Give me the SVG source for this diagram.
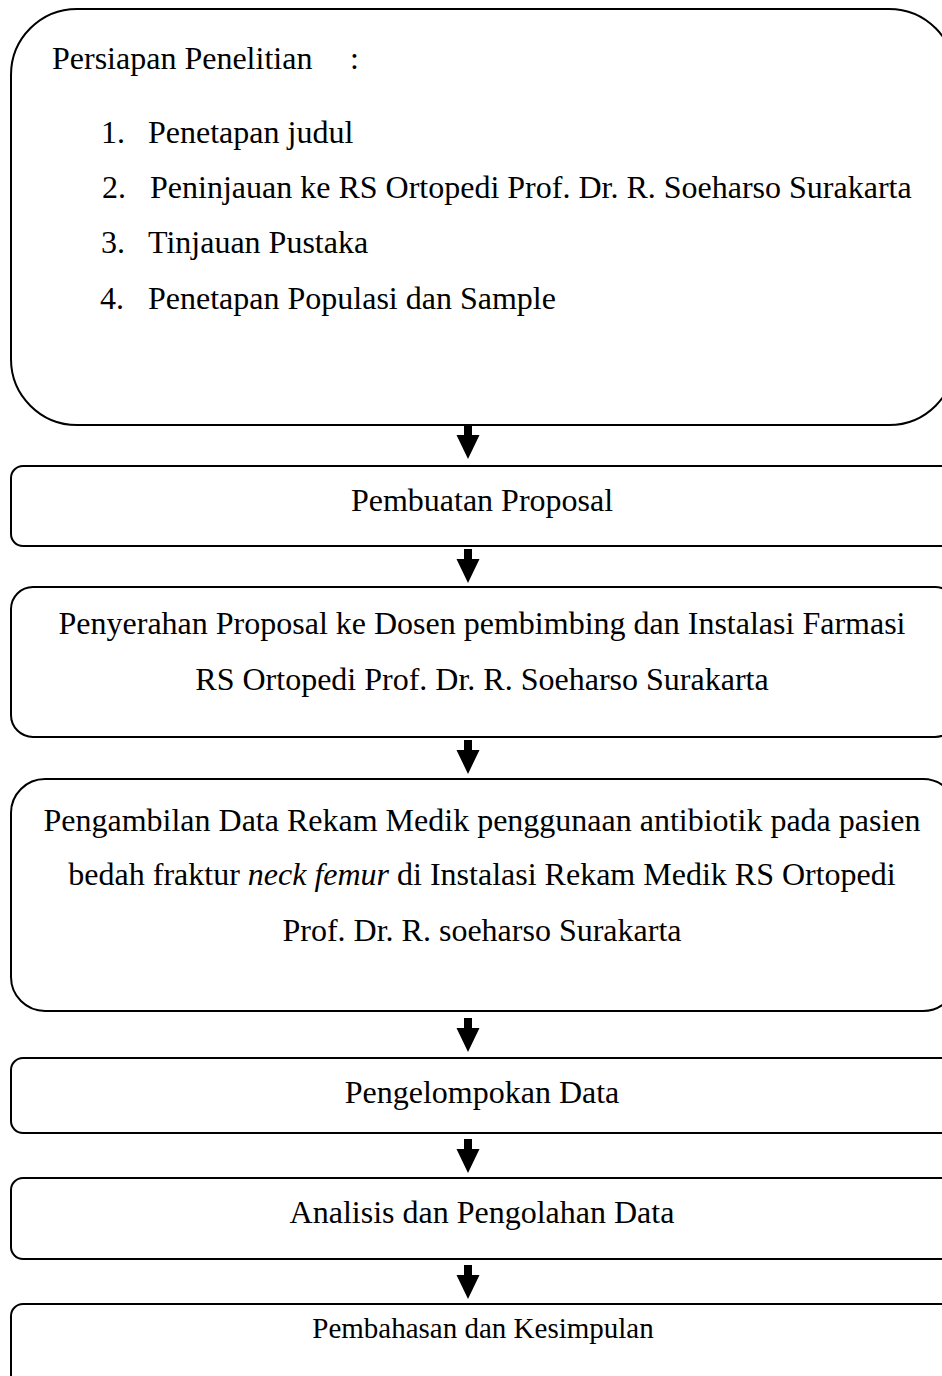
<svg xmlns="http://www.w3.org/2000/svg" width="942" height="1376" viewBox="0 0 942 1376">
<style>
.box{fill:#fff;stroke:#000;stroke-width:2}
.t{font-family:"Liberation Serif","Times New Roman",serif;font-size:32px;fill:#000}
.c{text-anchor:middle}
.arr{fill:#000}
</style>
<defs>
<path id="ah" d="M-4,0 H4 V10 H11.5 L0,34 L-11.5,10 H-4 Z"/>
</defs>
<g id="n1">
<rect class="box" x="11" y="9" width="944" height="416" rx="66" ry="66"/>
<text class="t" x="52" y="69">Persiapan Penelitian<tspan x="350">:</tspan></text>
<text class="t" x="101" y="143">1.</text><text class="t" x="148" y="143">Penetapan judul</text>
<text class="t" x="102" y="198">2.</text><text class="t" x="150" y="198">Peninjauan ke RS Ortopedi Prof. Dr. R. Soeharso Surakarta</text>
<text class="t" x="101" y="253">3.</text><text class="t" x="148" y="253">Tinjauan Pustaka</text>
<text class="t" x="100" y="309">4.</text><text class="t" x="148" y="309">Penetapan Populasi dan Sample</text>
</g>
<g id="n2">
<rect class="box" x="11" y="466" width="946" height="80" rx="12" ry="12"/>
<text class="t c" x="482" y="511">Pembuatan Proposal</text>
</g>
<g id="n3">
<rect class="box" x="11" y="587" width="946" height="150" rx="22" ry="22"/>
<text class="t c" x="482" y="634">Penyerahan Proposal ke Dosen pembimbing dan Instalasi Farmasi</text>
<text class="t c" x="482" y="690">RS Ortopedi Prof. Dr. R. Soeharso Surakarta</text>
</g>
<g id="n4">
<rect class="box" x="11" y="779" width="946" height="232" rx="34" ry="34"/>
<text class="t c" x="482" y="831">Pengambilan Data Rekam Medik penggunaan antibiotik pada pasien</text>
<text class="t c" x="482" y="885">bedah fraktur <tspan font-style="italic">neck femur</tspan> di Instalasi Rekam Medik RS Ortopedi</text>
<text class="t c" x="482" y="941">Prof. Dr. R. soeharso Surakarta</text>
</g>
<g id="n5">
<rect class="box" x="11" y="1058" width="946" height="75" rx="12" ry="12"/>
<text class="t c" x="482" y="1103">Pengelompokan Data</text>
</g>
<g id="n6">
<rect class="box" x="11" y="1178" width="946" height="81" rx="12" ry="12"/>
<text class="t c" x="482" y="1223">Analisis dan Pengolahan Data</text>
</g>
<g id="n7">
<rect class="box" x="11" y="1304" width="946" height="120" rx="12" ry="12"/>
<text class="t c" x="483" y="1338" style="font-size:29px">Pembahasan dan Kesimpulan</text>
</g>
<g id="connectors" class="arr">
<use href="#ah" x="468" y="425"/>
<use href="#ah" x="468" y="549"/>
<use href="#ah" x="468" y="740"/>
<use href="#ah" x="468" y="1018"/>
<use href="#ah" x="468" y="1139"/>
<use href="#ah" x="468" y="1265"/>
</g>
</svg>
